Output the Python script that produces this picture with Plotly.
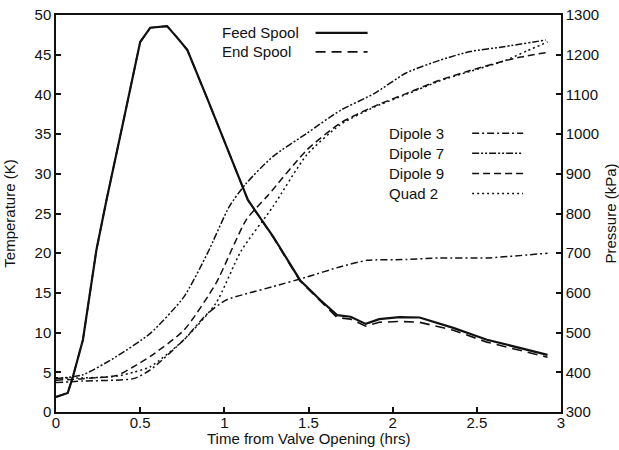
import plotly.graph_objects as go

# ---- data ----
time_spool = [0, 0.07, 0.10, 0.16, 0.24, 0.30, 0.40, 0.50, 0.56, 0.66, 0.73, 0.78, 0.90, 1.00,
              1.14, 1.29, 1.45, 1.57, 1.67, 1.75, 1.84, 1.92, 2.04, 2.16, 2.36, 2.56, 2.76, 2.92]
feed_spool_K = [1.9, 2.4, 4.4, 9.1, 20.4, 26.7, 36.6, 46.6, 48.4, 48.6, 46.9, 45.6, 39.4, 34.2,
                26.7, 22.1, 16.6, 14.1, 12.2, 12.0, 11.1, 11.7, 11.96, 11.9, 10.6, 9.1, 8.0, 7.2]
end_spool_K = [1.9, 2.4, 4.4, 9.1, 20.4, 26.7, 36.6, 46.6, 48.4, 48.6, 46.9, 45.6, 39.4, 34.2,
               26.7, 22.0, 16.5, 14.0, 11.9, 11.7, 10.8, 11.3, 11.4, 11.3, 10.3, 8.8, 7.7, 6.9]

time_d3 = [0, 0.16, 0.46, 0.56, 0.76, 0.90, 1.01, 1.15, 1.29, 1.49, 1.69, 1.85, 2.08, 2.28, 2.56, 2.92]
dipole3_kPa = [374, 378, 384, 406, 482, 548, 582, 600, 616, 640, 666, 682, 684, 688, 688, 700]

time_d7 = [0, 0.16, 0.36, 0.56, 0.76, 0.90, 1.03, 1.13, 1.29, 1.49, 1.69, 1.89, 2.08, 2.28, 2.46, 2.66, 2.91]
dipole7_kPa = [384, 394, 440, 498, 590, 700, 818, 876, 944, 1002, 1060, 1102, 1154, 1186, 1208, 1220, 1237]

time_d9 = [0, 0.16, 0.36, 0.46, 0.56, 0.76, 0.95, 1.13, 1.26, 1.49, 1.69, 1.89, 2.08, 2.28, 2.46, 2.66, 2.76, 2.92]
dipole9_kPa = [380, 384, 392, 414, 440, 506, 624, 784, 846, 960, 1028, 1070, 1102, 1136, 1160, 1184, 1194, 1206]

time_q2 = [0, 0.16, 0.36, 0.46, 0.56, 0.76, 0.95, 1.10, 1.29, 1.49, 1.69, 1.89, 2.08, 2.28, 2.46, 2.66, 2.80, 2.92]
quad2_kPa = [386, 386, 390, 400, 414, 482, 574, 706, 818, 948, 1024, 1068, 1100, 1134, 1158, 1184, 1210, 1232]

x_ticks = [0, 0.5, 1, 1.5, 2, 2.5, 3]
temp_ticks = list(range(0, 55, 5))
press_ticks = list(range(300, 1400, 100))

FONT = "Liberation Sans, Arial, Helvetica, sans-serif"
BLACK = "#111111"

fig = go.Figure()
fig.add_trace(go.Scatter(x=time_spool, y=feed_spool_K, mode="lines", name="Feed Spool",
                         line=dict(color=BLACK, width=2.2)))
fig.add_trace(go.Scatter(x=time_spool, y=end_spool_K, mode="lines", name="End Spool",
                         line=dict(color=BLACK, width=1.6, dash="10px,6px")))

dip_styles = [
    ("Dipole 3", time_d3, dipole3_kPa, "7px,3px,2px,3px"),
    ("Dipole 7", time_d7, dipole7_kPa, "7px,2px,2px,2px,2px,2px"),
    ("Dipole 9", time_d9, dipole9_kPa, "7px,4px"),
    ("Quad 2", time_q2, quad2_kPa, "2px,3px"),
]
for name, t, v, dash in dip_styles:
    fig.add_trace(go.Scatter(x=t, y=v, mode="lines", name=name, yaxis="y2",
                             line=dict(color=BLACK, width=1.5, dash=dash, shape="spline", smoothing=0.6)))

# legend drawn as text + sample lines (text left, line right)
legend_a = [("Feed Spool", None, 2.2), ("End Spool", "10px,6px", 1.6)]
for i, (name, dash, w) in enumerate(legend_a):
    yp = 0.955 - i * 0.048
    fig.add_annotation(x=0.325, y=yp, xref="paper", yref="paper", text=name, showarrow=False,
                       xanchor="left", yanchor="middle", font=dict(size=15, color=BLACK, family=FONT))
    fig.add_shape(type="line", xref="paper", yref="paper", x0=0.514, x1=0.617, y0=yp, y1=yp,
                  line=dict(color=BLACK, width=w, dash=dash or "solid"))
for i, (name, t, v, dash) in enumerate(dip_styles):
    yp = 0.702 - i * 0.0505
    fig.add_annotation(x=0.655, y=yp, xref="paper", yref="paper", text=name, showarrow=False,
                       xanchor="left", yanchor="middle", font=dict(size=15, color=BLACK, family=FONT))
    fig.add_shape(type="line", xref="paper", yref="paper", x0=0.824, x1=0.925, y0=yp, y1=yp,
                  line=dict(color=BLACK, width=1.5, dash=dash))

# x-axis title placed just under the tick labels
fig.add_annotation(x=0.5, y=-0.067, xref="paper", yref="paper", text="Time from Valve Opening (hrs)",
                   showarrow=False, xanchor="center", yanchor="middle",
                   font=dict(size=15, color=BLACK, family=FONT))

axis_common = dict(showgrid=False, zeroline=False, showline=True, linecolor=BLACK, linewidth=1.5,
                   ticks="inside", ticklen=5, tickwidth=1.5, tickcolor=BLACK, automargin=False,
                   tickfont=dict(size=15, color=BLACK, family=FONT))

fig.update_layout(
    width=619, height=450,
    margin=dict(l=56, r=58, t=15, b=38),
    paper_bgcolor="white", plot_bgcolor="white",
    showlegend=False,
    font=dict(family=FONT, color=BLACK),
    xaxis=dict(range=[0, 3], tickvals=x_ticks, ticktext=["0", "0.5", "1", "1.5", "2", "2.5", "3"],
               mirror=True, ticklabelstandoff=-4, **axis_common),
    yaxis=dict(range=[0, 50], tickvals=temp_ticks,
               title=dict(text="Temperature (K)", font=dict(size=15, color=BLACK, family=FONT)),
               **axis_common),
    yaxis2=dict(range=[300, 1300], tickvals=press_ticks, overlaying="y", side="right",
                title=dict(text="Pressure (kPa)", font=dict(size=15, color=BLACK, family=FONT)),
                **axis_common),
)

fig.write_html("out.html", config={"displayModeBar": False},
               post_script="document.body.style.margin='0';document.body.style.padding='0';")
